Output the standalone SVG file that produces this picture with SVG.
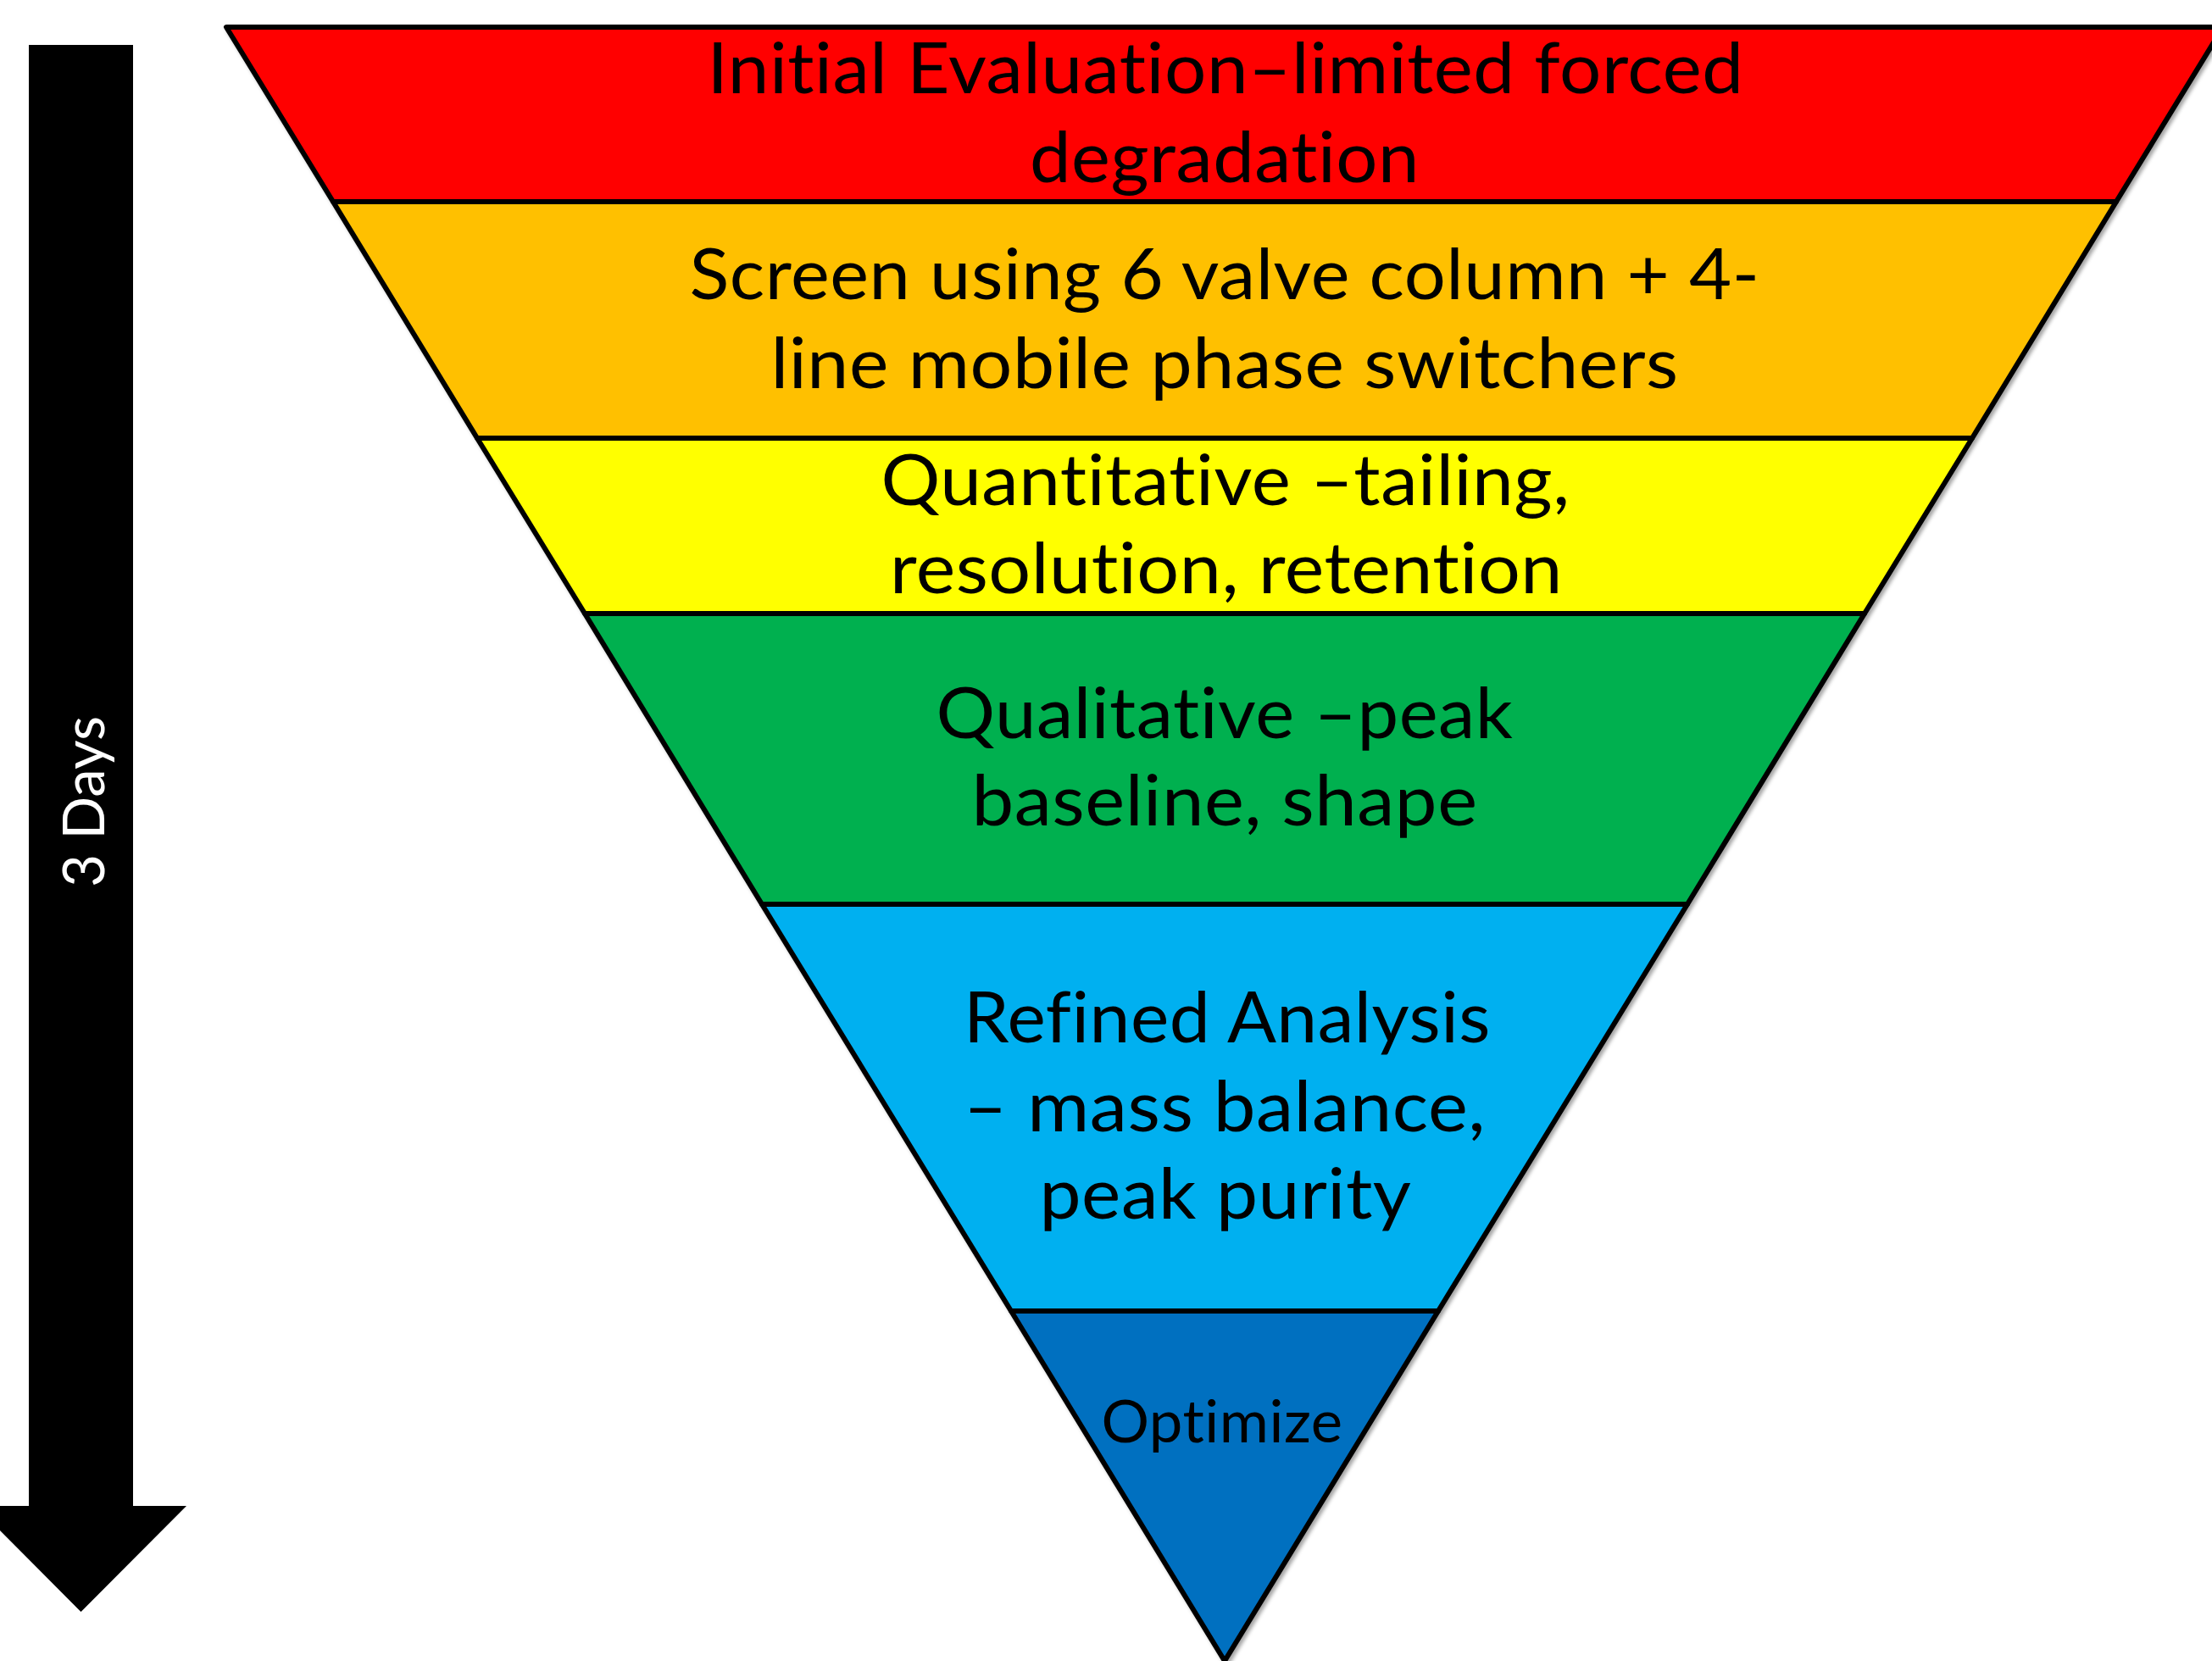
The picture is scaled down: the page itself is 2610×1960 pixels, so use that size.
<svg xmlns="http://www.w3.org/2000/svg" width="2610" height="1960" viewBox="0 0 2610 1960">
  <style>
    .band { stroke: #000; stroke-width: 6; stroke-linejoin: round; }
    .lbl { font-family: Lato, "Open Sans", "Liberation Sans", sans-serif; font-size: 84px; fill: #000; text-anchor: middle; font-variant-ligatures: none; font-feature-settings: "liga" 0, "clig" 0, "dlig" 0, "calt" 0; letter-spacing: 0.5px; }
    .small { font-size: 70px; }
    .days { font-family: Lato, "Open Sans", "Liberation Sans", sans-serif; font-size: 68px; fill: #fff; text-anchor: middle; font-variant-ligatures: none; }
  </style>
  <defs>
    <filter id="sh" x="-5%" y="-5%" width="110%" height="110%">
      <feDropShadow dx="3" dy="3" stdDeviation="2" flood-color="#000" flood-opacity="0.35"/>
    </filter>
  </defs>
  <rect width="2610" height="1960" fill="#fff"/>

  <g id="arrow">
    <polygon points="34,53 157,53 157,1777 220,1777 95.5,1902 -29,1777 34,1777" fill="#000"/>
    <text class="days" transform="translate(123,946) rotate(-90)" textLength="202" lengthAdjust="spacingAndGlyphs">3 Days</text>
  </g>

  <g id="funnel" filter="url(#sh)">
    <g id="band1">
      <polygon class="band" fill="#FF0000" points="267,32 2623,32 2497,238 393,238"/>
      <text class="lbl" x="1446" y="110" textLength="1223" lengthAdjust="spacingAndGlyphs">Initial Evaluation–limited forced</text>
      <text class="lbl" x="1445" y="215" textLength="460" lengthAdjust="spacingAndGlyphs">degradation</text>
    </g>
    <g id="band2">
      <polygon class="band" fill="#FFC000" points="393,238 2497,238 2327,517 563,517"/>
      <text class="lbl" x="1445" y="353" textLength="1263" lengthAdjust="spacingAndGlyphs">Screen using 6 valve column + 4-</text>
      <text class="lbl" x="1445" y="458" textLength="1071" lengthAdjust="spacingAndGlyphs">line mobile phase switchers</text>
    </g>
    <g id="band3">
      <polygon class="band" fill="#FFFF00" points="563,517 2327,517 2200,724 690,724"/>
      <text class="lbl" x="1446" y="596" textLength="813" lengthAdjust="spacingAndGlyphs">Quantitative –tailing,</text>
      <text class="lbl" x="1447" y="700" textLength="794" lengthAdjust="spacingAndGlyphs">resolution, retention</text>
    </g>
    <g id="band4">
      <polygon class="band" fill="#00B050" points="690,724 2200,724 1991,1067 899,1067"/>
      <text class="lbl" x="1445" y="871" textLength="681" lengthAdjust="spacingAndGlyphs">Qualitative –peak</text>
      <text class="lbl" x="1445" y="974" textLength="597" lengthAdjust="spacingAndGlyphs">baseline, shape</text>
    </g>
    <g id="band5">
      <polygon class="band" fill="#00B0F0" points="899,1067 1991,1067 1697,1547 1193,1547"/>
      <text class="lbl" x="1448" y="1230" textLength="622" lengthAdjust="spacingAndGlyphs">Refined Analysis</text>
      <text class="lbl" x="1445" y="1335" textLength="616" lengthAdjust="spacingAndGlyphs">– mass balance,</text>
      <text class="lbl" x="1446" y="1438" textLength="439" lengthAdjust="spacingAndGlyphs">peak purity</text>
    </g>
    <g id="band6">
      <polygon class="band" fill="#0070C0" points="1193,1547 1697,1547 1445,1960"/>
      <text class="lbl small" x="1442" y="1702" textLength="285" lengthAdjust="spacingAndGlyphs">Optimize</text>
    </g>
  </g>
</svg>
